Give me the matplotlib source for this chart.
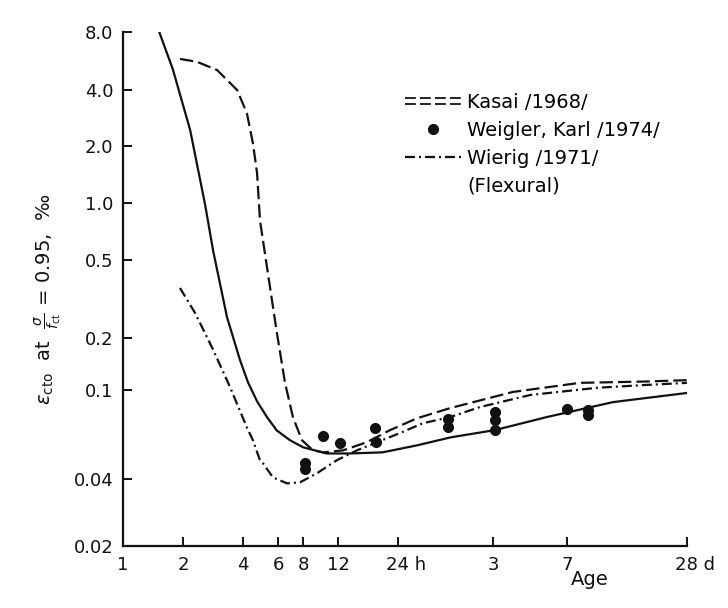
import numpy as np
import matplotlib
matplotlib.use("Agg")
import matplotlib.pyplot as plt
from matplotlib.lines import Line2D
from matplotlib.legend_handler import HandlerLine2D
from matplotlib.ticker import FixedLocator, NullLocator
from matplotlib.transforms import ScaledTranslation

# --- data: age in hours, strain in per mille ---
solid_age = [1.52, 1.78, 2.17, 2.58, 2.83, 3.32, 3.86, 4.23, 4.7, 5.27, 5.9, 6.87, 8.0,
             10.5, 13.7, 20, 30, 44, 73, 133, 286, 672]
solid_eps = [8.0, 5.1, 2.44, 0.98, 0.56, 0.256, 0.149, 0.111, 0.089, 0.0757, 0.066,
             0.0597, 0.0555, 0.0521, 0.0521, 0.0527, 0.0567, 0.0615, 0.0662, 0.0757,
             0.0883, 0.097]

kasai_age = [1.93, 2.35, 2.96, 3.73, 4.18, 4.48, 4.70, 4.86, 5.27, 5.91, 6.49, 7.11,
             7.89, 8.96, 10.1, 12.7, 16.7, 21.8, 29.8, 43.6, 90, 195, 423, 672]
kasai_eps = [5.8, 5.6, 5.08, 4.0, 3.0, 2.07, 1.44, 0.81, 0.46, 0.212, 0.11, 0.0757,
             0.0597, 0.0538, 0.0527, 0.0538, 0.0585, 0.0662, 0.0748, 0.083, 0.098,
             0.11, 0.112, 0.114]

wierig_age = [1.93, 2.30, 2.83, 3.44, 4.18, 4.48, 4.86, 5.03, 5.65, 6.64, 7.71, 9.38,
              11.8, 14.9, 18.8, 24.4, 31.9, 43.6, 61.5, 110, 238, 423, 672]
wierig_eps = [0.36, 0.268, 0.171, 0.104, 0.068, 0.0597, 0.0486, 0.0471, 0.0407, 0.0383,
              0.0387, 0.0425, 0.0486, 0.0538, 0.0585, 0.0642, 0.0711, 0.0757, 0.0839,
              0.095, 0.103, 0.107, 0.11]

weigler_age = [8.2, 8.2, 10.1, 12.2, 18.3, 18.5, 42.5, 42.5, 73, 73, 73, 168, 214, 214]
weigler_eps = [0.0471, 0.0443, 0.0622, 0.0578, 0.0676, 0.0585, 0.0741, 0.0683, 0.0796,
               0.0733, 0.0662, 0.0822, 0.0813, 0.0772]

x_ticks = [1, 2, 4, 6, 8, 12, 24, 72, 168, 672]
x_labels = ["1", "2", "4", "6", "8", "12", "24 h", "3", "7", "28 d"]
y_ticks = [0.02, 0.04, 0.1, 0.2, 0.5, 1.0, 2.0, 4.0, 8.0]
y_labels = ["0.02", "0.04", "0.1", "0.2", "0.5", "1.0", "2.0", "4.0", "8.0"]

# the printed y axis is not a clean log scale: heights of each tick (0..1) from the scan
Y_POS = np.array([0.0, 0.130, 0.3035, 0.4047, 0.5564, 0.6673, 0.7782, 0.8872, 1.0])
LOG_T = np.log10(y_ticks)
K0 = (Y_POS[1] - Y_POS[0]) / (LOG_T[1] - LOG_T[0])
K1 = (Y_POS[-1] - Y_POS[-2]) / (LOG_T[-1] - LOG_T[-2])


def fwd(v):
    lv = np.log10(np.clip(np.asarray(v, dtype=float), 1e-9, None))
    out = np.interp(lv, LOG_T, Y_POS)
    out = np.where(lv < LOG_T[0], Y_POS[0] + (lv - LOG_T[0]) * K0, out)
    out = np.where(lv > LOG_T[-1], Y_POS[-1] + (lv - LOG_T[-1]) * K1, out)
    return out


def inv(u):
    u = np.asarray(u, dtype=float)
    lv = np.interp(u, Y_POS, LOG_T)
    lv = np.where(u < Y_POS[0], LOG_T[0] + (u - Y_POS[0]) / K0, lv)
    lv = np.where(u > Y_POS[-1], LOG_T[-1] + (u - Y_POS[-1]) / K1, lv)
    return 10 ** lv


class DoubleDash(HandlerLine2D):
    """Kasai legend key is printed as two stacked dashed rows"""
    def create_artists(self, legend, orig_handle, xdescent, ydescent, width, height,
                       fontsize, trans):
        y0 = (height - ydescent) / 2
        arts = []
        for dy in (-2.2, 2.2):
            ln = Line2D([-xdescent, width - xdescent], [y0 + dy, y0 + dy])
            ln.update_from(orig_handle)
            ln.set_linewidth(1.3)
            ln.set_transform(trans)
            arts.append(ln)
        return arts


INK = "#111111"
LW = 1.6
DASH = (6, 2.3)
DASHDOT = (4.5, 1.8, 0.9, 1.8)

plt.rcParams["font.family"] = ["DejaVu Sans"]

fig = plt.figure(figsize=(7.28, 6.08), dpi=100)
ax = fig.add_axes([123 / 728, 1 - 546 / 608, 564 / 728, 514 / 608])

ax.plot(solid_age, solid_eps, color=INK, lw=LW)
l_kasai, = ax.plot(kasai_age, kasai_eps, color=INK, lw=LW, dashes=DASH,
                   label="Kasai /1968/")
l_weig, = ax.plot(weigler_age, weigler_eps, "o", color=INK, ms=7,
                  label="Weigler, Karl /1974/")
l_wier, = ax.plot(wierig_age, wierig_eps, color=INK, lw=LW, dashes=DASHDOT,
                  label="Wierig /1971/")
l_blank, = ax.plot([], [], ls="none", label="(Flexural)")

ax.set_xscale("log")
ax.set_yscale("function", functions=(fwd, inv))
ax.set_xlim(1, 672)
ax.set_ylim(0.02, 8.0)

ax.xaxis.set_major_locator(FixedLocator(x_ticks))
ax.xaxis.set_minor_locator(NullLocator())
ax.set_xticklabels(x_labels)
ax.yaxis.set_major_locator(FixedLocator(y_ticks))
ax.yaxis.set_minor_locator(NullLocator())
ax.set_yticklabels(y_labels)

for s in ["top", "right"]:
    ax.spines[s].set_visible(False)
for s in ["left", "bottom"]:
    ax.spines[s].set_linewidth(1.6)
    ax.spines[s].set_color(INK)

ax.tick_params(direction="in", length=6.5, width=1.4, color=INK,
               labelsize=13, labelcolor=INK, pad=7)

# "24 h" / "28 d": number sits on the tick, unit hangs to the right
for lbl in ax.get_xticklabels():
    if lbl.get_text() in ("24 h", "28 d"):
        lbl.set_transform(lbl.get_transform() + ScaledTranslation(0.08, 0, fig.dpi_scale_trans))

ax.set_xlabel("Age", fontsize=14, color=INK)
ax.xaxis.set_label_coords(0.828, -0.047)

ax.text(-0.133, 0.479,
        r"$\varepsilon_{\mathrm{cto}}$  at  $\frac{\sigma}{f_{\mathrm{ct}}}$ = 0.95,  ‰",
        rotation=90, ha="center", va="center", fontsize=14, color=INK,
        transform=ax.transAxes)

ax.legend(handles=[l_kasai, l_weig, l_wier, l_blank], loc="upper left",
          bbox_to_anchor=(0.5, 0.881), frameon=False, fontsize=14,
          handlelength=2.9, handletextpad=0.3, borderpad=0, borderaxespad=0,
          labelspacing=0.45, numpoints=1, handler_map={l_kasai: DoubleDash()})

fig.savefig("out.png", dpi=100)
